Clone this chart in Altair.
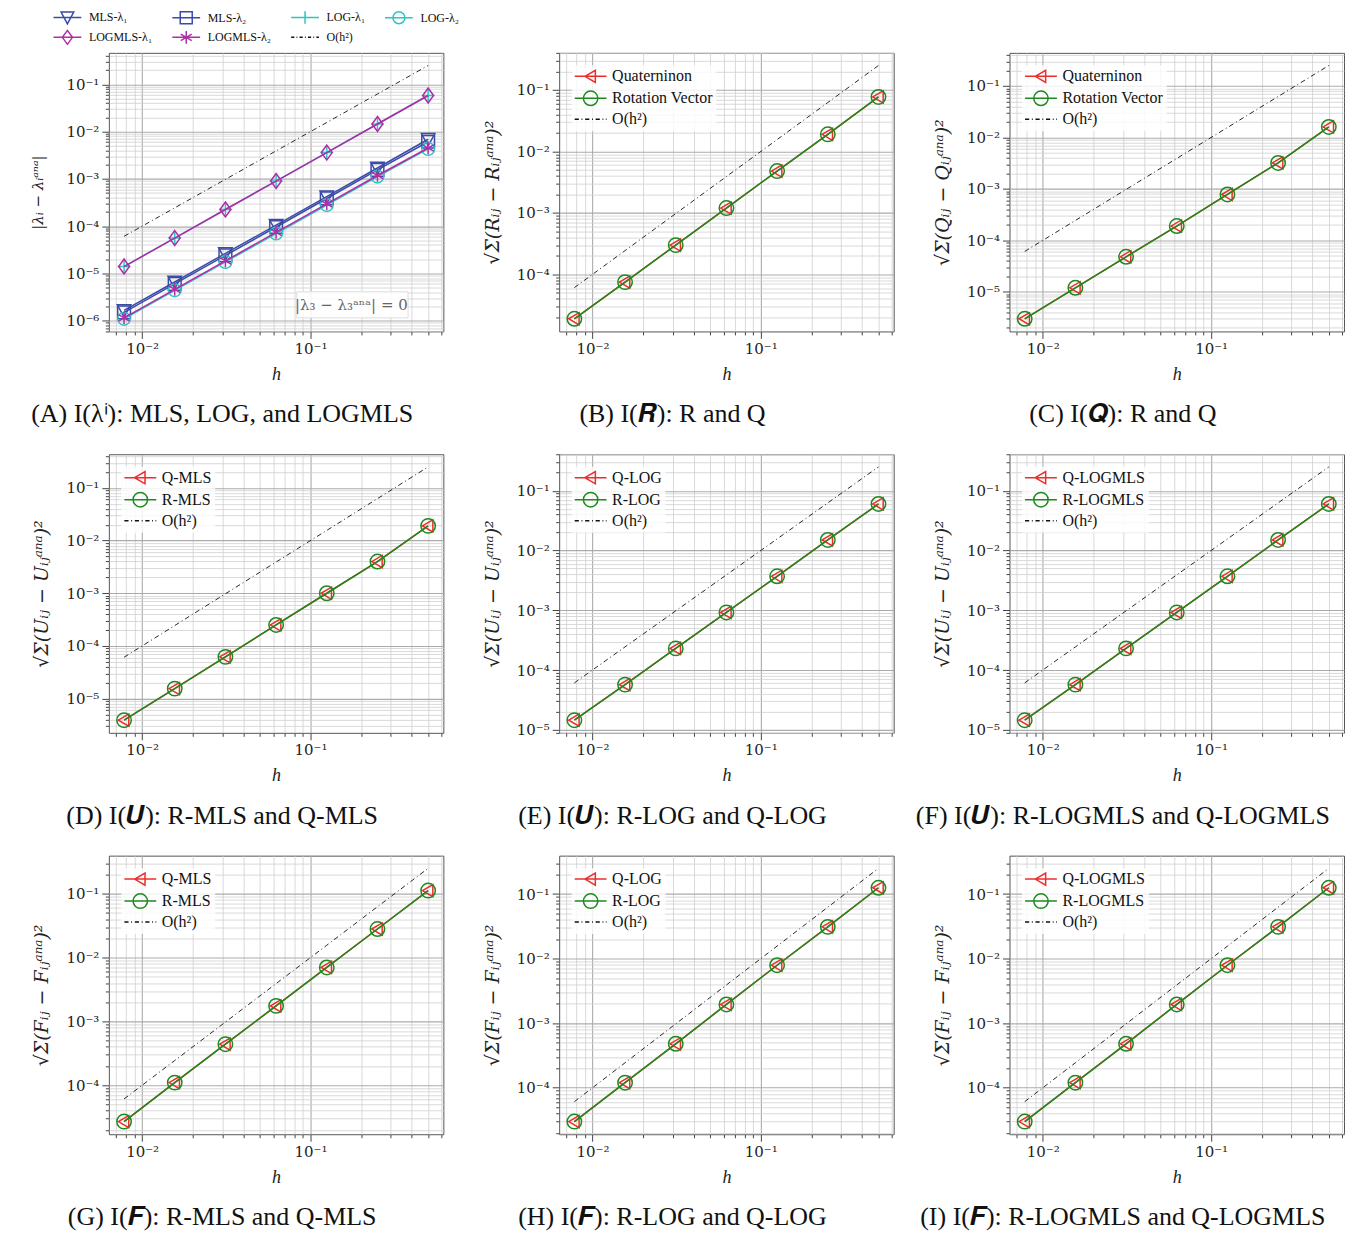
import math
import altair as alt
import pandas as pd

# ---------------- data ----------------
h = [0.0078125, 0.015625, 0.03125, 0.0625, 0.125, 0.25, 0.5]
order2 = [6.1e-5, 2.44e-4, 9.77e-4, 3.91e-3, 1.56e-2, 6.25e-2, 0.25]

# (A) eigenvalue errors
a_names = ["MLS-λ₁", "MLS-λ₂", "LOG-λ₁", "LOG-λ₂", "LOGMLS-λ₁", "LOGMLS-λ₂", "O(h²)"]
a_mls_l1 = [1.65e-6, 6.6e-6, 2.65e-5, 1.05e-4, 4.2e-4, 1.7e-3, 6.9e-3]
a_mls_l2 = [1.5e-6, 6.0e-6, 2.4e-5, 9.6e-5, 3.85e-4, 1.55e-3, 6.1e-3]
a_log_l1 = [1.4e-5, 5.6e-5, 2.25e-4, 9.0e-4, 3.6e-3, 1.45e-2, 5.8e-2]
a_log_l2 = [1.1e-6, 4.4e-6, 1.75e-5, 7.0e-5, 2.8e-4, 1.12e-3, 4.3e-3]
a_logmls_l1 = [1.4e-5, 5.6e-5, 2.25e-4, 9.0e-4, 3.6e-3, 1.45e-2, 5.8e-2]
a_logmls_l2 = [1.15e-6, 4.6e-6, 1.85e-5, 7.4e-5, 2.95e-4, 1.18e-3, 4.5e-3]
a_note = "|λ₃ − λ₃ᵃⁿᵃ| = 0"
a_note_h = [0.175]
a_note_e = [2.2e-6]
a_box_h = [0.083, 0.38]
a_box_e = [1.15e-6, 4.1e-6]

# (B) R, (C) Q
b_q = [1.9e-5, 7.5e-5, 3.0e-4, 1.2e-3, 4.8e-3, 1.9e-2, 7.7e-2]
b_r = [1.9e-5, 7.5e-5, 3.0e-4, 1.2e-3, 4.8e-3, 1.9e-2, 7.7e-2]
c_q = [3.0e-6, 1.2e-5, 4.8e-5, 1.9e-4, 7.8e-4, 3.2e-3, 1.6e-2]
c_r = [3.0e-6, 1.2e-5, 4.8e-5, 1.9e-4, 7.8e-4, 3.2e-3, 1.6e-2]
# (D)-(F) U
d_q = [3.9e-6, 1.55e-5, 6.2e-5, 2.5e-4, 1.0e-3, 4.0e-3, 1.9e-2]
d_r = [3.9e-6, 1.55e-5, 6.2e-5, 2.5e-4, 1.0e-3, 4.0e-3, 1.9e-2]
e_q = [1.45e-5, 5.7e-5, 2.3e-4, 9.2e-4, 3.7e-3, 1.5e-2, 6.0e-2]
e_r = [1.45e-5, 5.7e-5, 2.3e-4, 9.2e-4, 3.7e-3, 1.5e-2, 6.0e-2]
f_q = [1.45e-5, 5.7e-5, 2.3e-4, 9.2e-4, 3.7e-3, 1.5e-2, 6.0e-2]
f_r = [1.45e-5, 5.7e-5, 2.3e-4, 9.2e-4, 3.7e-3, 1.5e-2, 6.0e-2]
# (G)-(I) F
g_q = [2.7e-5, 1.1e-4, 4.4e-4, 1.75e-3, 7.0e-3, 2.8e-2, 1.12e-1]
g_r = [2.7e-5, 1.1e-4, 4.4e-4, 1.75e-3, 7.0e-3, 2.8e-2, 1.12e-1]
h_q = [3.0e-5, 1.2e-4, 4.8e-4, 1.95e-3, 7.9e-3, 3.1e-2, 1.25e-1]
h_r = [3.0e-5, 1.2e-4, 4.8e-4, 1.95e-3, 7.9e-3, 3.1e-2, 1.25e-1]
i_q = [3.0e-5, 1.2e-4, 4.8e-4, 1.95e-3, 7.9e-3, 3.1e-2, 1.25e-1]
i_r = [3.0e-5, 1.2e-4, 4.8e-4, 1.95e-3, 7.9e-3, 3.1e-2, 1.25e-1]

legend_rq = ["Quaterninon", "Rotation Vector", "O(h²)"]
legend_mls = ["Q-MLS", "R-MLS", "O(h²)"]
legend_log = ["Q-LOG", "R-LOG", "O(h²)"]
legend_logmls = ["Q-LOGMLS", "R-LOGMLS", "O(h²)"]

captions = [
    "(A) I(λⁱ): MLS, LOG, and LOGMLS",
    "(B)  I(𝑹): R and Q",
    "(C)  I(𝑸): R and Q",
    "(D) I(𝑼): R-MLS and Q-MLS",
    "(E)  I(𝑼): R-LOG and Q-LOG",
    "(F)  I(𝑼): R-LOGMLS and Q-LOGMLS",
    "(G) I(𝑭): R-MLS and Q-MLS",
    "(H)  I(𝑭): R-LOG and Q-LOG",
    "(I)  I(𝑭): R-LOGMLS and Q-LOGMLS",
]
ytitles = {
    "A": "|λᵢ − λᵢᵃⁿᵃ|",
    "R": "√Σ(Rᵢⱼ − Rᵢⱼᵃⁿᵃ)²",
    "Q": "√Σ(Qᵢⱼ − Qᵢⱼᵃⁿᵃ)²",
    "U": "√Σ(Uᵢⱼ − Uᵢⱼᵃⁿᵃ)²",
    "F": "√Σ(Fᵢⱼ − Fᵢⱼᵃⁿᵃ)²",
}

# ---------------- styles ----------------
SERIF = "Liberation Serif"
MATH = "DejaVu Serif"
BLUE = "#3b4ba8"
CYAN = "#2fc4c4"
MAGENTA = "#b12ca7"
RED = "#ee2c2c"
GREEN = "#1d8a1d"
W, H = 335, 279

# custom symbol paths (unit box [-1, 1])
LINE = "M-2.1,0L2.1,0"
P_TRI_L = "M-0.75,0L0.62,-0.8L0.62,0.8Z"
P_CIRC = "M0.95,0A0.95,0.95,0,1,1,-0.95,0A0.95,0.95,0,1,1,0.95,0Z"
DASHDOT = ("M-2.1,0L-1.55,0M-1.2,0L-1.08,0M-0.72,0L-0.17,0M0.18,0L0.3,0"
           "M0.66,0L1.21,0M1.56,0L1.68,0M2.0,0L2.1,0")
# panel A symbols (legend unit is smaller)
A_LINE = "M-2.2,0L2.2,0"
A_LEG_TRI_D = "M-1.0,-0.85L1.0,-0.85L0,1.0Z"
A_LEG_SQ = "M-0.95,-0.95L0.95,-0.95L0.95,0.95L-0.95,0.95Z"
A_LEG_PLUS = "M0,-1.0L0,1.0"
A_LEG_CIRC = "M0.95,0A0.95,0.95,0,1,1,-0.95,0A0.95,0.95,0,1,1,0.95,0Z"
A_LEG_DIAM = "M0,-1.1L0.8,0L0,1.1L-0.8,0Z"
A_LEG_AST = "M0,-1.0L0,1.0M-0.87,-0.5L0.87,0.5M-0.87,0.5L0.87,-0.5"
A_DASHDOT = ("M-2.2,0L-1.7,0M-1.35,0L-1.22,0M-0.87,0L-0.37,0M-0.02,0L0.11,0"
             "M0.46,0L0.96,0M1.31,0L1.44,0M1.79,0L2.2,0")
A_TRI_D = "M-0.9,-0.75L0.9,-0.75L0,0.9Z"
A_SQ = "M-0.85,-0.85L0.85,-0.85L0.85,0.85L-0.85,0.85Z"
A_PLUS = "M-0.85,0L0.85,0M0,-0.85L0,0.85"
A_CIRC = "M0.85,0A0.85,0.85,0,1,1,-0.85,0A0.85,0.85,0,1,1,0.85,0Z"
A_DIAM = "M0,-1L0.72,0L0,1L-0.72,0Z"
A_AST = "M0,-0.85L0,0.85M-0.74,-0.43L0.74,0.43M-0.74,0.43L0.74,-0.43"

MAJOR = "abs(log(datum.value)/LN10 - round(log(datum.value)/LN10)) < 0.001"
LABEL = ("(" + MAJOR + ") ? '10' + '⁻' + ['⁰','¹','²','³','⁴','⁵','⁶','⁷','⁸','⁹']"
         "[abs(round(log(datum.value)/LN10))] : ''")


def log_domain(lo_val, hi_val):
    lo, hi = math.log10(lo_val), math.log10(hi_val)
    m = 0.05 * (hi - lo)
    return [10 ** (lo - m), 10 ** (hi + m)]


def log_ticks(dom):
    vals = []
    for k in range(-9, 2):
        for m in range(1, 10):
            v = float(f"{m}e{k}")
            if dom[0] <= v <= dom[1]:
                vals.append(v)
    return vals


def make_axis(values, title, is_x, title_size, title_pad):
    return alt.Axis(
        values=values,
        labelExpr=LABEL,
        labelOverlap=False,
        labelFlush=False,
        labelBound=False,
        labelFont=MATH,
        labelFontSize=15,
        labelColor="#222",
        labelPadding=3,
        tickColor="#444",
        tickWidth=1,
        tickSize={"condition": {"test": MAJOR, "value": 7}, "value": 3.5},
        grid=True,
        gridColor={"condition": {"test": MAJOR, "value": "#ababab"}, "value": "#cfcfcf"},
        gridWidth={"condition": {"test": MAJOR, "value": 1.1}, "value": 0.8},
        domain=False,
        title=title,
        titleFont=SERIF if is_x else MATH,
        titleFontStyle="italic",
        titleFontWeight="normal",
        titleFontSize=title_size,
        titleColor="#222",
        titlePadding=title_pad,
    )


def caption(text):
    return alt.TitleParams(
        text, orient="bottom", anchor="middle", frame="group", font=SERIF,
        fontSize=26, fontWeight="normal", color="#111", offset=18, dx=-54,
    )


def panel(series, names, paths, colors, ytitle, ytitle_size, ytitle_pad, cap, legend, extra=None):
    allvals = [v for s in series for v in s["y"]] + order2
    xdom = log_domain(h[0], h[-1])
    ydom = log_domain(min(allvals), max(allvals))
    xs = alt.Scale(type="log", domain=xdom, nice=False, zero=False)
    ys = alt.Scale(type="log", domain=ydom, nice=False, zero=False)
    xa = make_axis(log_ticks(xdom), "h", True, 18, 9)
    ya = make_axis(log_ticks(ydom), ytitle, False, ytitle_size, ytitle_pad)
    xenc = alt.X("h:Q", scale=xs, axis=xa)
    yenc = alt.Y("e:Q", scale=ys, axis=ya)

    layers = []
    ref = alt.Chart(pd.DataFrame({"h": h, "e": order2})).mark_line(
        color="#111", strokeWidth=0.9, strokeDash=[5, 3, 1, 3]
    ).encode(x=xenc, y=yenc)
    layers.append(ref)
    if extra is not None:
        layers.extend(extra(xenc, yenc))
    for s in series:
        base = alt.Chart(pd.DataFrame({"h": h, "e": s["y"]})).encode(x=xenc, y=yenc)
        layers.append(base.mark_line(color=s["color"], strokeWidth=1.5))
        layers.append(base.mark_point(shape=s["shape"], size=s["size"], color=s["color"],
                                      filled=False, strokeWidth=1.5, opacity=1))
    leg_df = pd.DataFrame({"name": names, "h": [h[0]] * len(names), "e": [order2[0]] * len(names)})
    leg_layer = alt.Chart(leg_df).transform_filter("datum.h < 0").mark_point(
        filled=False, strokeWidth=1.5, opacity=1, size=legend["size"]
    ).encode(
        x=xenc, y=yenc,
        shape=alt.Shape("name:N", scale=alt.Scale(domain=names, range=paths), legend=legend["obj"]),
        color=alt.Color("name:N", scale=alt.Scale(domain=names, range=colors), legend=legend["obj"]),
    )
    layers.append(leg_layer)
    return alt.layer(*layers).properties(width=W, height=H, title=cap)


def inner_legend():
    return {
        "size": 231,
        "obj": alt.Legend(
            title=None, orient="top-left", offset=12, padding=3,
            fillColor="rgba(255,255,255,0.82)", strokeColor="rgba(0,0,0,0)",
            labelFont=SERIF, labelFontSize=16, labelColor="#111", labelLimit=400,
            symbolStrokeWidth=1.5, symbolSize=231, symbolOffset=8, labelOffset=13,
            symbolFillColor="transparent", rowPadding=2,
        ),
    }


def rq_panel(q, r, names, ytitle, cap):
    series = [
        {"y": q, "color": RED, "shape": P_TRI_L, "size": 231},
        {"y": r, "color": GREEN, "shape": P_CIRC, "size": 231},
    ]
    paths = [LINE + P_TRI_L, LINE + P_CIRC, DASHDOT]
    return panel(series, names, paths, [RED, GREEN, "#111"], ytitle, 19, 14, cap, inner_legend())


# panel A
a_series = [
    {"y": a_mls_l1, "color": BLUE, "shape": A_TRI_D, "size": 225},
    {"y": a_mls_l2, "color": BLUE, "shape": A_SQ, "size": 225},
    {"y": a_log_l1, "color": CYAN, "shape": A_PLUS, "size": 225},
    {"y": a_log_l2, "color": CYAN, "shape": A_CIRC, "size": 225},
    {"y": a_logmls_l1, "color": MAGENTA, "shape": A_DIAM, "size": 225},
    {"y": a_logmls_l2, "color": MAGENTA, "shape": A_AST, "size": 225},
]
a_paths = [A_LINE + A_LEG_TRI_D, A_LINE + A_LEG_SQ, A_LINE + A_LEG_PLUS, A_LINE + A_LEG_CIRC,
           A_LINE + A_LEG_DIAM, A_LINE + A_LEG_AST, A_DASHDOT]
a_colors = [BLUE, BLUE, CYAN, CYAN, MAGENTA, MAGENTA, "#111"]
a_legend = {
    "size": 160,
    "obj": alt.Legend(
        title=None, orient="none", legendX=-57, legendY=-43, columns=4, direction="horizontal",
        padding=0, labelFont=SERIF, labelFontSize=12, labelColor="#111", labelLimit=300,
        symbolStrokeWidth=1.5, symbolSize=160, symbolOffset=8, labelOffset=14,
        symbolFillColor="transparent", columnPadding=16, rowPadding=0,
    ),
}


def a_extra(xenc, yenc):
    box = alt.Chart(pd.DataFrame({"h": [a_box_h[0]], "h2": [a_box_h[1]],
                                  "e": [a_box_e[0]], "e2": [a_box_e[1]]})).mark_rect(
        fill="white", fillOpacity=0.85, stroke="#dddddd", strokeWidth=1
    ).encode(x=xenc, x2="h2:Q", y=yenc, y2="e2:Q")
    txt = alt.Chart(pd.DataFrame({"h": a_note_h, "e": a_note_e, "t": [a_note]})).mark_text(
        font=MATH, fontSize=15, color="#666"
    ).encode(x=xenc, y=yenc, text="t:N")
    return [box, txt]


pA = panel(a_series, a_names, a_paths, a_colors, ytitles["A"], 15, 20,
           caption(captions[0]), a_legend, a_extra)
pB = rq_panel(b_q, b_r, legend_rq, ytitles["R"], caption(captions[1]))
pC = rq_panel(c_q, c_r, legend_rq, ytitles["Q"], caption(captions[2]))
pD = rq_panel(d_q, d_r, legend_mls, ytitles["U"], caption(captions[3]))
pE = rq_panel(e_q, e_r, legend_log, ytitles["U"], caption(captions[4]))
pF = rq_panel(f_q, f_r, legend_logmls, ytitles["U"], caption(captions[5]))
pG = rq_panel(g_q, g_r, legend_mls, ytitles["F"], caption(captions[6]))
pH = rq_panel(h_q, h_r, legend_log, ytitles["F"], caption(captions[7]))
pI = rq_panel(i_q, i_r, legend_logmls, ytitles["F"], caption(captions[8]))

chart = alt.concat(
    pA, pB, pC, pD, pE, pF, pG, pH, pI,
    columns=3, spacing=alt.RowColnumber(row=123, column=116), bounds="flush",
).resolve_scale(color="independent", shape="independent").properties(
    padding={"left": 22, "top": 0, "right": 0, "bottom": 0}
).configure_view(stroke="#555", strokeWidth=1)

chart.save("out.html", embed_options={"renderer": "svg", "actions": False})
